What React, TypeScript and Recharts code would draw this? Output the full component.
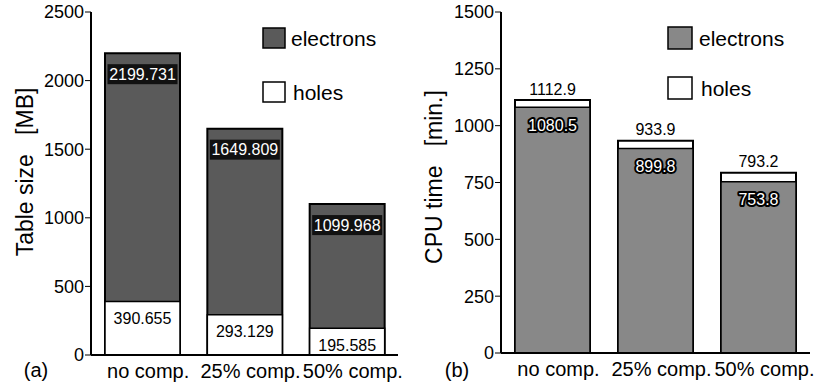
import React from "react";
import { BarChart, Bar, XAxis, YAxis, Customized, LabelList } from "recharts";

const categories = ["no comp.", "25% comp.", "50% comp."];
const tableElectrons = [2199.731, 1649.809, 1099.968];
const tableHoles = [390.655, 293.129, 195.585];
const cpuElectrons = [1080.5, 899.8, 753.8];
const cpuHoles = [1112.9, 933.9, 793.2];
const tableTicks = [0, 500, 1000, 1500, 2000, 2500];
const tableMinorTicks = [0, 250, 500, 750, 1000, 1250, 1500, 1750, 2000, 2250, 2500];
const cpuTicks = [0, 250, 500, 750, 1000, 1250, 1500];
const cpuMinorTicks = [0, 125, 250, 375, 500, 625, 750, 875, 1000, 1125, 1250, 1375, 1500];

const tableData = categories.map((c, i) => ({ name: c, electrons: tableElectrons[i], holes: tableHoles[i] }));
const cpuData = categories.map((c, i) => ({ name: c, electrons: cpuElectrons[i], holes: cpuHoles[i] }));

const FONT = "Liberation Sans, Arial, Helvetica, sans-serif";
const W = 413;
const H = 388;
const BAR = 75;

const darkA = "#5a5a5a";
const grayB = "#888888";

const ElectronBoxLabel = (props: any) => {
  const { x, y, width, value } = props;
  const cx = x + width / 2;
  const cy = y + 21;
  return (
    <g>
      <rect x={cx - 35} y={cy - 10} width={70} height={20} fill="#111" />
      <text x={cx} y={cy} fill="#fff" fontSize={16} fontFamily={FONT} textAnchor="middle" dominantBaseline="central">
        {String(value)}
      </text>
    </g>
  );
};

const HoleInsideLabel = (props: any) => {
  const { x, y, width, value } = props;
  return (
    <text x={x + width / 2} y={y + 17} fill="#000" fontSize={16} fontFamily={FONT} textAnchor="middle" dominantBaseline="central">
      {String(value)}
    </text>
  );
};

const HoleAboveLabel = (props: any) => {
  const { x, y, width, value } = props;
  return (
    <text x={x + width / 2} y={y - 11} fill="#000" fontSize={16} fontFamily={FONT} textAnchor="middle" dominantBaseline="central">
      {String(value)}
    </text>
  );
};

const HaloLabel = (props: any) => {
  const { x, y, width, value } = props;
  return (
    <text
      x={x + width / 2}
      y={y + 18}
      fill="#fff"
      stroke="#000"
      strokeWidth={4}
      strokeLinejoin="round"
      paintOrder="stroke"
      fontSize={16}
      fontFamily={FONT}
      textAnchor="middle"
      dominantBaseline="central"
    >
      {String(value)}
    </text>
  );
};

const Extras = ({ title, tx, ty, panel, px, legendX, swW, swH, e1y, h1y, textX, fill }: any) => (
  <g fontFamily={FONT}>
    <text
      transform={`translate(${tx},${ty}) rotate(-90)`}
      textAnchor="middle"
      dominantBaseline="central"
      fontSize={23}
      fill="#000"
    >
      {title}
    </text>
    <text x={px} y={370} textAnchor="middle" dominantBaseline="central" fontSize={20} fill="#000">
      {panel}
    </text>
    <rect x={legendX} y={e1y} width={swW} height={swH} fill={fill} stroke="#000" strokeWidth={1.5} />
    <text x={textX} y={e1y + swH / 2} dominantBaseline="central" fontSize={21} fill="#000">
      electrons
    </text>
    <rect x={legendX} y={h1y} width={swW} height={swH} fill="#fff" stroke="#000" strokeWidth={1.5} />
    <text x={textX + 2} y={h1y + swH / 2} dominantBaseline="central" fontSize={21} fill="#000">
      holes
    </text>
  </g>
);

const tickStyle = { fontSize: 18, fontFamily: FONT, fill: "#000" };
const xTickStyle = { fontSize: 20, fontFamily: FONT, fill: "#000" };

export default function App() {
  return (
    <div style={{ position: "absolute", left: 0, top: 0, width: 826, height: 388, background: "#fff" }}>
      <div style={{ position: "absolute", left: 0, top: 0 }}>
        <BarChart
          width={W}
          height={H}
          data={tableData}
          margin={{ top: 12, right: 15, bottom: 8, left: 31 }}
          barSize={BAR}
          barGap={-BAR}
        >
          <XAxis dataKey="name" xAxisId="b" axisLine={{ stroke: "#000", strokeWidth: 2 }} tickLine={false} tickSize={6} tickMargin={3} height={25} tick={{ ...xTickStyle, dx: 6 }} interval={0} />
          <XAxis dataKey="name" xAxisId="t" orientation="top" axisLine={{ stroke: "#000", strokeWidth: 2 }} tick={false} tickLine={false} height={0} />
          <YAxis yAxisId="l" domain={[0, 2500]} ticks={tableTicks} width={60} axisLine={{ stroke: "#000", strokeWidth: 2 }} tickLine={{ stroke: "#000" }} tickSize={6} tickMargin={1} tick={tickStyle} allowDataOverflow />
          <YAxis yAxisId="r" orientation="right" domain={[0, 2500]} ticks={tableMinorTicks} width={0} mirror axisLine={{ stroke: "#000", strokeWidth: 2 }} tickLine={{ stroke: "#000" }} tickSize={5} tick={false} />
          <Bar dataKey="electrons" xAxisId="b" yAxisId="l" fill={darkA} stroke="#000" strokeWidth={2} isAnimationActive={false}>
            <LabelList dataKey="electrons" content={ElectronBoxLabel} />
          </Bar>
          <Bar dataKey="holes" xAxisId="b" yAxisId="l" fill="#fff" stroke="#000" strokeWidth={1.5} isAnimationActive={false}>
            <LabelList dataKey="holes" content={HoleInsideLabel} />
          </Bar>
          <Customized
            component={
              <Extras title={"Table size\u00a0\u00a0\u00a0[MB]"} tx={25} ty={172} panel="(a)" px={36} legendX={263} swW={22} swH={20} e1y={28} h1y={82} textX={291} fill={darkA} />
            }
          />
        </BarChart>
      </div>
      <div style={{ position: "absolute", left: 413, top: 0 }}>
        <BarChart
          width={W}
          height={H}
          data={cpuData}
          margin={{ top: 12, right: 16, bottom: 10, left: 28 }}
          barSize={BAR}
          barGap={-BAR}
        >
          <XAxis dataKey="name" xAxisId="b" axisLine={{ stroke: "#000", strokeWidth: 2 }} tickLine={false} tickSize={6} tickMargin={3} height={25} tick={{ ...xTickStyle, dx: 6 }} interval={0} />
          <XAxis dataKey="name" xAxisId="t" orientation="top" axisLine={{ stroke: "#000", strokeWidth: 2 }} tick={false} tickLine={false} height={0} />
          <YAxis yAxisId="l" domain={[0, 1500]} ticks={cpuTicks} width={60} axisLine={{ stroke: "#000", strokeWidth: 2 }} tickLine={{ stroke: "#000" }} tickSize={6} tickMargin={1} tick={tickStyle} allowDataOverflow />
          <YAxis yAxisId="r" orientation="right" domain={[0, 1500]} ticks={cpuMinorTicks} width={0} mirror axisLine={{ stroke: "#000", strokeWidth: 2 }} tickLine={{ stroke: "#000" }} tickSize={5} tick={false} />
          <Bar dataKey="holes" xAxisId="b" yAxisId="l" fill="#fff" stroke="#000" strokeWidth={2} isAnimationActive={false}>
            <LabelList dataKey="holes" content={HoleAboveLabel} />
          </Bar>
          <Bar dataKey="electrons" xAxisId="b" yAxisId="l" fill={grayB} stroke="#000" strokeWidth={1.5} isAnimationActive={false}>
            <LabelList dataKey="electrons" content={HaloLabel} />
          </Bar>
          <Customized
            component={
              <Extras title={"CPU time\u00a0\u00a0\u00a0[min.]"} tx={21} ty={177} panel="(b)" px={44} legendX={255} swW={24} swH={22} e1y={27} h1y={77} textX={286} fill={grayB} />
            }
          />
        </BarChart>
      </div>
    </div>
  );
}
